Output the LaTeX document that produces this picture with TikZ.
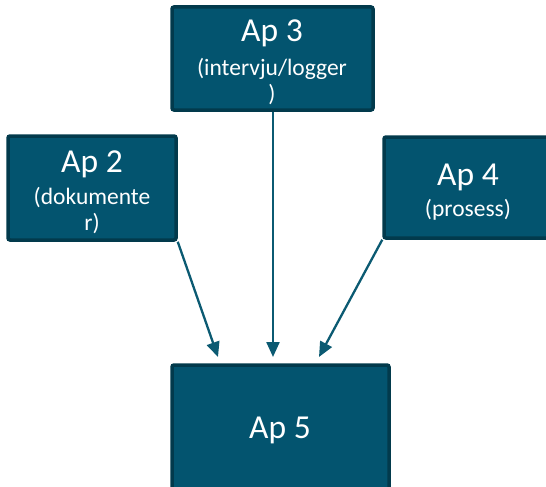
\documentclass[tikz,border=0pt]{standalone}
\usepackage{fontspec}
\setmainfont{Carlito}
\usetikzlibrary{arrows.meta}
\definecolor{boxfill}{HTML}{03546F}
\definecolor{boxline}{HTML}{023A4C}
\definecolor{arrowc}{HTML}{0B5A72}
\tikzset{
  box/.style={draw=boxline, fill=boxfill, line width=3.5pt, rounded corners=2pt, inner sep=0pt},
  title/.style={text=white, font=\fontsize{33.5}{33.5}\selectfont, anchor=base, inner sep=0pt},
  sub/.style={text=white, font=\fontsize{23.5}{23.5}\selectfont, anchor=base, inner sep=0pt},
  conn/.style={draw=arrowc, line width=2.3pt, -{Triangle[length=15pt,width=13pt]}}
}
\begin{document}
\begin{tikzpicture}[x=1pt,y=-1pt]
\useasboundingbox (0,0) rectangle (546,487);
% boxes
\node[box, minimum width=201pt, minimum height=103pt] (ap3) at (272.5,58.5) {};
\node[box, minimum width=168pt, minimum height=104pt] (ap2) at (92,188) {};
\node[box, minimum width=168pt, minimum height=101pt] (ap4) at (468,187.5) {};
\node[box, minimum width=217pt, minimum height=140pt] (ap5) at (280.5,435) {};
% texts
\node[title] (t3) at (272,42) {Ap 3};
\node[sub] (s3a) at (272,75) {(intervju/logger};
\node[sub] (s3b) at (272,101) {)};
\node[title] (t2) at (92,172) {Ap 2};
\node[sub] (s2a) at (92,204) {(dokumente};
\node[sub] (s2b) at (92,230) {r)};
\node[title] (t4) at (468,185) {Ap 4};
\node[sub] (s4a) at (468,216) {(prosess)};
\node[title] (t5) at (280,438) {Ap 5};
% arrow tips
\coordinate (e2) at (218,357);
\coordinate (e3) at (273,357);
\coordinate (e4) at (319,357);
\draw[conn] (ap2.south east) -- (e2);
\draw[conn] (ap3.south -| e3) -- (e3);
\draw[conn] (ap4.south west) -- (e4);
\end{tikzpicture}
\end{document}
